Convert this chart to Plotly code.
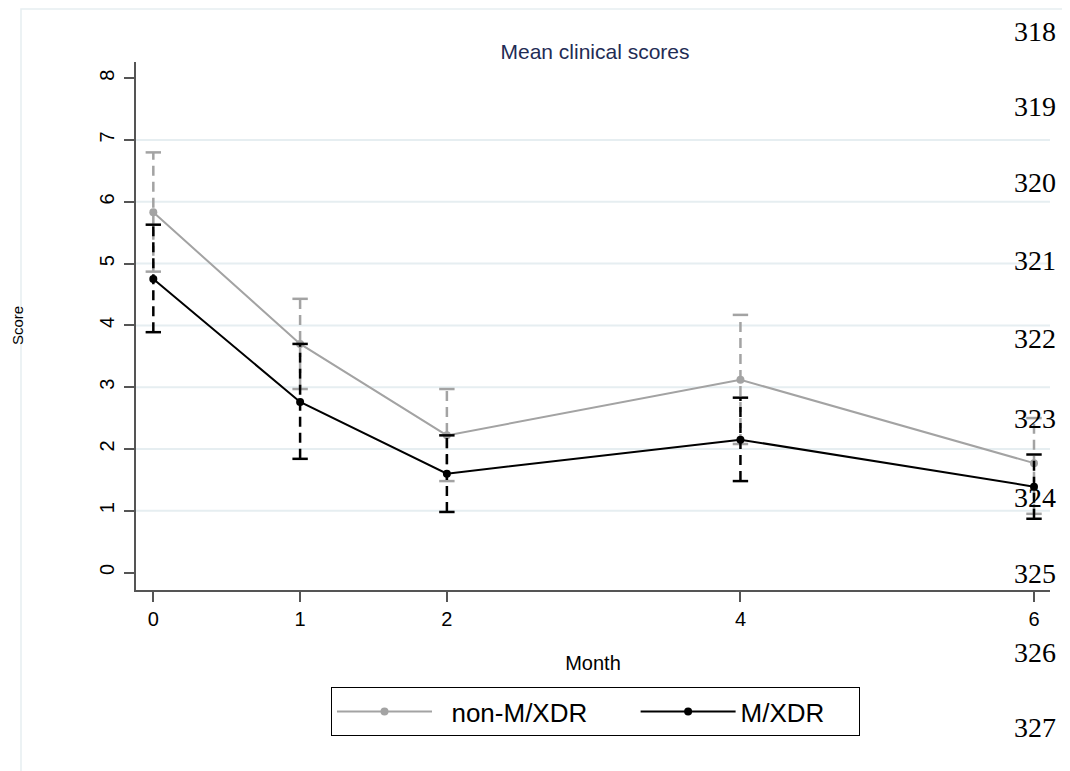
import plotly.graph_objects as go

months = [0, 1, 2, 4, 6]
non_mean = [5.83, 3.70, 2.22, 3.12, 1.77]
non_lo = [4.87, 2.97, 1.48, 2.08, 0.95]
non_hi = [6.80, 4.43, 2.97, 4.17, 2.50]
mx_mean = [4.75, 2.76, 1.60, 2.15, 1.39]
mx_lo = [3.89, 1.84, 0.98, 1.48, 0.87]
mx_hi = [5.63, 3.70, 2.22, 2.83, 1.91]
series_names = ["non-M/XDR", "M/XDR"]
y_ticks = [0, 1, 2, 3, 4, 5, 6, 7, 8]
grid_vals = [1, 2, 3, 4, 5, 6, 7]
line_numbers = ["318", "319", "320", "321", "322", "323", "324", "325", "326", "327"]
line_number_px = [31, 106, 182, 260, 338, 418, 497, 573, 652, 728]

GREY = "#a3a3a3"
BLACK = "#000000"
OFF = 8  # page body margin
W, H = 1070 - OFF, 771 - OFF
# plot area in reference-page pixels
AX_L, AX_R, AX_T, AX_B = 136, 1050, 62, 590
L = AX_L - OFF
R = W - (AX_R - OFF)
T = AX_T - OFF
B = H - (AX_B - OFF)
PW = W - L - R
PH = H - T - B
FONT = "Liberation Sans, Arial, sans-serif"
NB = "\u00a0"


def px_x(p):
    return (p - AX_L) / PW


def px_y(p):
    return (AX_B - p) / PH


def err_xy(xs, lo, hi):
    ex, ey = [], []
    for x, a, b in zip(xs, lo, hi):
        ex += [x, x, None]
        ey += [a, b, None]
    return ex, ey


legend_labels = [NB * 2 + series_names[0] + NB * 6, series_names[1] + NB * 4]

fig = go.Figure()
for label, mean, lo, hi, col in [
    (legend_labels[0], non_mean, non_lo, non_hi, GREY),
    (legend_labels[1], mx_mean, mx_lo, mx_hi, BLACK),
]:
    ex, ey = err_xy(months, lo, hi)
    fig.add_trace(go.Scatter(x=ex, y=ey, mode="lines", showlegend=False, hoverinfo="skip",
                             line=dict(color=col, width=2.5, dash="10px,6px")))
    fig.add_trace(go.Scatter(x=months + months, y=lo + hi, mode="markers", showlegend=False,
                             hoverinfo="skip",
                             marker=dict(symbol="line-ew", size=11, line=dict(color=col, width=2.5))))
    fig.add_trace(go.Scatter(x=months, y=mean, mode="lines+markers", name=label,
                             line=dict(color=col, width=2),
                             marker=dict(color=col, size=8)))

shapes = []
for g in grid_vals:
    shapes.append(dict(type="line", xref="paper", yref="y", x0=0, x1=1, y0=g, y1=g,
                       line=dict(color="#e6eef1", width=2), layer="below"))
shapes.append(dict(type="rect", xref="paper", yref="paper", x0=px_x(21), x1=px_x(1090),
                   y0=px_y(800), y1=px_y(9), line=dict(color="#e6eef1", width=1.5), layer="below"))

annotations = []
for lab, p in zip(line_numbers, line_number_px):
    annotations.append(dict(text=lab, xref="paper", yref="paper", x=px_x(1058), y=px_y(p),
                            xanchor="right", yanchor="middle", showarrow=False,
                            font=dict(family="Liberation Serif, Times New Roman, serif", size=28, color="#000")))
annotations.append(dict(text="Score", xref="paper", yref="paper", x=px_x(17), y=px_y(326),
                        xanchor="center", yanchor="middle", textangle=-90, showarrow=False,
                        font=dict(family=FONT, size=15, color="#000")))

fig.update_layout(
    width=W, height=H,
    margin=dict(l=L, r=R, t=T, b=B, autoexpand=False),
    paper_bgcolor="white", plot_bgcolor="white",
    font=dict(family=FONT, color="#000"),
    title=dict(text="Mean clinical scores", x=px_x(595), xref="paper", xanchor="center",
               y=1 - (52 - OFF) / H, yref="container", yanchor="middle",
               font=dict(size=21, color="#1f2c55", family=FONT)),
    showlegend=True,
    legend=dict(orientation="h", x=px_x(331), y=px_y(687), xanchor="left", yanchor="top",
                bordercolor="#000", borderwidth=1, font=dict(size=26, family=FONT),
                itemwidth=95, traceorder="normal", bgcolor="white"),
    shapes=shapes,
    annotations=annotations,
)
fig.update_xaxes(range=[-0.118, 6.109], tickvals=months, showgrid=False, zeroline=False,
                 showline=True, linecolor="#555", linewidth=1.5,
                 ticks="outside", ticklen=10, tickcolor="#555", tickwidth=1.5,
                 tickfont=dict(size=20), title=dict(text="Month", font=dict(size=20), standoff=27))
fig.update_yaxes(range=[-0.283, 8.263], tickvals=y_ticks, showgrid=False, zeroline=False,
                 showline=True, linecolor="#555", linewidth=1.5,
                 ticks="outside", ticklen=10, tickcolor="#555", tickwidth=1.5,
                 tickangle=-90, tickfont=dict(size=20), ticklabelstandoff=2)

fig.write_html("out.html")
